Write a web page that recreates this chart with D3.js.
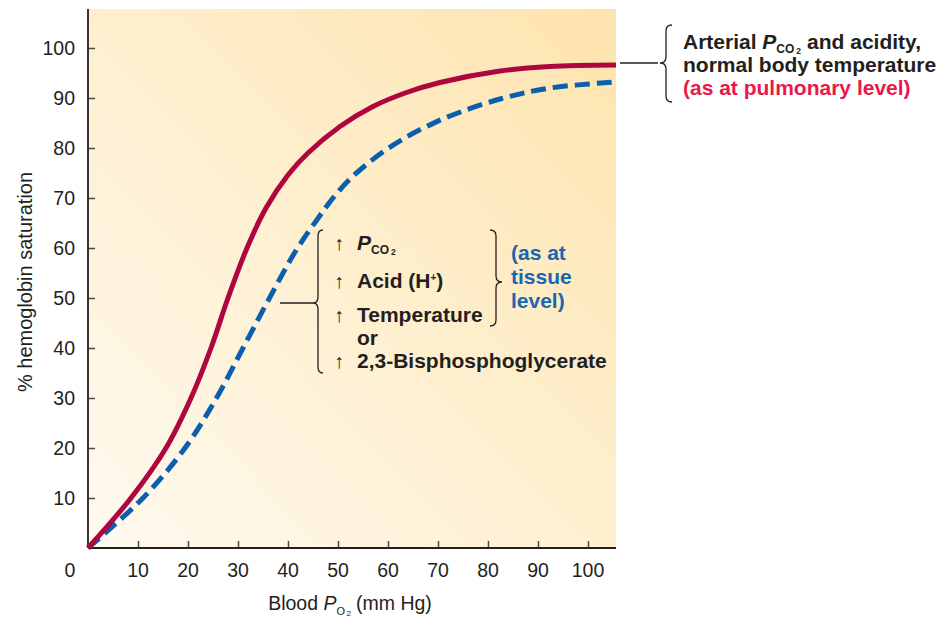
<!DOCTYPE html>
<html><head><meta charset="utf-8">
<script src="https://cdn.jsdelivr.net/npm/d3@7"></script>
<style>
body{margin:0;background:#fff;}
text{font-family:"Liberation Sans",Arial,sans-serif;fill:#231f20;}
</style></head>
<body><svg id="c" width="939" height="620"></svg>
<script>
// Data
const xTicks = [10,20,30,40,50,60,70,80,90,100];
const yTicks = [10,20,30,40,50,60,70,80,90,100];
const normalPO2 = [0, 8.6, 15.6, 20.6, 24.6, 28, 31.8, 35.6, 40, 44, 50.4, 57, 63.7, 70.4, 82.4, 92.4, 105.6];
const normalSat = [0, 10, 20, 30, 40, 50, 60, 68, 74.6, 79, 84.3, 88.3, 91.1, 93.1, 95.4, 96.3, 96.6];
const shiftedPO2 = [0, 11, 19.4, 25.7, 31, 36.3, 41.6, 46.4, 49, 52.4, 55.7, 59.7, 63.7, 67.7, 72.4, 82.4, 92.4, 105.6];
const shiftedSat = [0, 10, 20, 30, 40, 50, 59.5, 66.5, 70, 73.8, 76.7, 79.7, 82.2, 84.3, 86.4, 89.8, 92, 93.2];

const svg = d3.select("#c");
const x = d3.scaleLinear().domain([0, 105.6]).range([88, 616]);
const y = d3.scaleLinear().domain([0, 107.8]).range([548, 9]);

// gradient background
const defs = svg.append("defs");
const g = defs.append("linearGradient").attr("id","bg").attr("x1","0%").attr("y1","100%").attr("x2","100%").attr("y2","0%");
g.append("stop").attr("offset","0%").attr("stop-color","#fefaf0");
g.append("stop").attr("offset","100%").attr("stop-color","#fee4ae");
svg.append("rect").attr("x",x(0)).attr("y",y(107.8)).attr("width",x(105.6)-x(0)).attr("height",y(0)-y(107.8)).attr("fill","url(#bg)");

// axes
const ya = svg.append("g").attr("transform",`translate(${x(0)},0)`)
  .call(d3.axisRight(y).tickValues(yTicks).tickSize(7).tickFormat(""));
const xa = svg.append("g").attr("transform",`translate(0,${y(0)})`)
  .call(d3.axisTop(x).tickValues(xTicks).tickSize(7).tickFormat(""));
[ya,xa].forEach(a=>{a.select(".domain").remove(); a.selectAll("line").attr("stroke","#4a4a4a").attr("stroke-width",1.5);});
svg.append("line").attr("x1",x(0)).attr("x2",x(0)).attr("y1",y(107.8)).attr("y2",y(0)).attr("stroke","#231f20").attr("stroke-width",1.8);
svg.append("line").attr("x1",x(0)).attr("x2",x(105.6)).attr("y1",y(0)).attr("y2",y(0)).attr("stroke","#231f20").attr("stroke-width",1.8);

svg.selectAll(".yl").data(yTicks).enter().append("text").attr("x",75).attr("y",d=>y(d)+7)
  .attr("text-anchor","end").attr("font-size",19.5).text(d=>d);
svg.selectAll(".xl").data(xTicks).enter().append("text").attr("x",d=>x(d)).attr("y",577)
  .attr("text-anchor","middle").attr("font-size",19.5).text(d=>d);
svg.append("text").attr("x",70).attr("y",577).attr("text-anchor","middle").attr("font-size",19.5).text("0");

// rich text: sequence of separate text pieces laid out left to right
function rich(x0, y0, parts, weight, fill){
  let cx = x0;
  const made = [];
  parts.forEach(p=>{
    cx += (p.dx||0);
    const t = svg.append("text").attr("x",cx).attr("y",y0+(p.dy||0)).attr("font-size",p.size)
      .attr("font-weight",weight).style("fill",fill||"#231f20").text(p.t);
    if(p.italic) t.attr("font-style","italic");
    made.push(t);
    cx += t.node().getComputedTextLength();
  });
  return {w: cx - x0, made};
}

// axis titles
svg.append("text").attr("transform","translate(32,282) rotate(-90)").attr("text-anchor","middle").attr("font-size",20).text("% hemoglobin saturation");
const xtParts = [{t:"Blood",size:19.5},{t:"P",size:19.5,italic:true,dx:5.4},{t:"O",size:11,dy:5},{t:"2",size:8,dy:6,dx:1.5},{t:"(mm Hg)",size:19.5,dx:5}];
const probe = rich(0, 700, xtParts, "normal");
probe.made.forEach(t=>t.remove());
rich(350 - probe.w/2, 610, xtParts, "normal");

// curves
const line = d3.line().x(d=>x(d[0])).y(d=>y(d[1])).curve(d3.curveCatmullRom.alpha(0.5));
svg.append("path").datum(shiftedPO2.map((v,i)=>[v,shiftedSat[i]])).attr("d",line)
  .attr("fill","none").attr("stroke","#0a5fae").attr("stroke-width",5).attr("stroke-dasharray","15,7");
svg.append("path").datum(normalPO2.map((v,i)=>[v,normalSat[i]])).attr("d",line)
  .attr("fill","none").attr("stroke","#ae0740").attr("stroke-width",5);

// brace helper: stem at xp; ends curl toward xp+w*dir, point at xp-w*dir
function brace(xp, y0, y1, ym, dir, wd){
  const w = wd*dir, r=6;
  const p = `M${xp+w},${y0} Q${xp},${y0} ${xp},${y0+r} L${xp},${ym-r} Q${xp},${ym} ${xp-w},${ym} Q${xp},${ym} ${xp},${ym+r} L${xp},${y1-r} Q${xp},${y1} ${xp+w},${y1}`;
  svg.append("path").attr("d",p).attr("fill","none").attr("stroke","#231f20").attr("stroke-width",1.3);
}

const BF = 21;
// Top-right annotation
svg.append("line").attr("x1",620).attr("x2",658).attr("y1",63).attr("y2",63).attr("stroke","#231f20").attr("stroke-width",1.3);
brace(666, 25, 102, 63, 1, 6);
rich(683, 49, [{t:"Arterial",size:BF},{t:"P",size:BF,italic:true,dx:5.8},{t:"CO",size:12,dy:4},{t:"2",size:8.5,dy:5,dx:2},{t:"and acidity,",size:BF,dx:6}], "bold");
svg.append("text").attr("x",683).attr("y",72).attr("font-size",BF).attr("font-weight","bold").text("normal body temperature");
svg.append("text").attr("x",683).attr("y",95).attr("font-size",BF).attr("font-weight","bold").style("fill","#e8194a").text("(as at pulmonary level)");

// middle annotation
svg.append("line").attr("x1",280).attr("x2",313).attr("y1",303).attr("y2",303).attr("stroke","#231f20").attr("stroke-width",1.3);
brace(318, 230, 373, 303, 1, 5);
brace(496, 230, 326, 282, -1, 6);
const arrowsY = [250, 288, 322, 368];
svg.selectAll(".ar").data(arrowsY).enter().append("text").attr("x",334).attr("y",d=>d).attr("font-size",20).text("\u2191");
rich(357, 250, [{t:"P",size:BF,italic:true},{t:"CO",size:12,dy:4},{t:"2",size:8.5,dy:5,dx:2}], "bold");
rich(357, 288, [{t:"Acid (H",size:BF},{t:"+",size:10,dy:-7},{t:")",size:BF}], "bold");
svg.append("text").attr("x",357).attr("y",322).attr("font-size",BF).attr("font-weight","bold").text("Temperature");
svg.append("text").attr("x",357).attr("y",345).attr("font-size",BF).attr("font-weight","bold").text("or");
svg.append("text").attr("x",357).attr("y",368).attr("font-size",BF).attr("font-weight","bold").text("2,3-Bisphosphoglycerate");
const tissue = ["(as at","tissue","level)"];
svg.selectAll(".ts").data(tissue).enter().append("text").attr("x",511).attr("y",(d,i)=>260+i*24)
  .attr("font-size",BF).attr("font-weight","bold").style("fill","#1a66b0").text(d=>d);
</script></body></html>
